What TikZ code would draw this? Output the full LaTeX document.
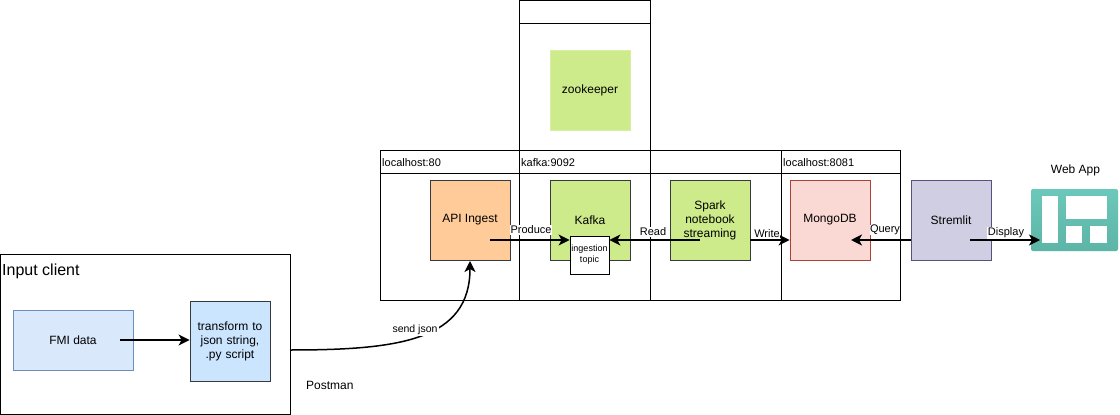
\documentclass[tikz,border=0pt]{standalone}
\usepackage{fontspec}
\setmainfont{Liberation Sans}
\usepackage{tikz}
\usetikzlibrary{arrows.meta}

\definecolor{greenfill}{HTML}{CDEB8B}
\definecolor{darkedge}{HTML}{36393D}
\definecolor{bluefill}{HTML}{DAE8FC}
\definecolor{blueedge}{HTML}{6C8EBF}
\definecolor{skyfill}{HTML}{CCE5FF}
\definecolor{orangefill}{HTML}{FFCC99}
\definecolor{redfill}{HTML}{FAD9D5}
\definecolor{rededge}{HTML}{AE4132}
\definecolor{purplefill}{HTML}{D0CEE2}
\definecolor{purpleedge}{HTML}{56517E}
\definecolor{tealtop}{HTML}{6CC8BA}
\definecolor{tealbottom}{HTML}{5CB5A6}

\begin{document}
\begin{tikzpicture}[x=1pt, y=-1pt, every node/.style={font=\fontsize{12}{14}\selectfont, align=center, inner sep=0pt},
	>={Stealth[length=11pt, width=11pt, inset=3pt]},
	lane/.style={draw=black, line width=0.9pt},
	srvbox/.style={draw=darkedge, line width=0.8pt, minimum width=80pt, minimum height=80pt},
	flow/.style={->, line width=1.5pt},
	plainlabel/.style={anchor=west, font=\fontsize{11}{13}\selectfont},
	flowlabel/.style={fill=white, inner sep=0.5pt, font=\fontsize{11}{13}\selectfont}]
	\useasboundingbox (0,0) rectangle (1120,415);
	\fill[white] (0,0) rectangle (1120,415);
	% swimlanes
	\draw[lane] (519.5,0.5) rectangle (650.5,150);
	\draw[lane] (519.5,23) -- (650.5,23);
	\draw[lane] (380.5,150.5) rectangle (900.5,300);
	\draw[lane] (380.5,173) -- (900.5,173);
	\draw[lane] (519.5,150) -- (519.5,300);
	\draw[lane] (650.5,150) -- (650.5,300);
	\draw[lane] (781.5,150) -- (781.5,300);
	\node[plainlabel] (lblapi) at (382,163) {localhost:80};
	\node[plainlabel] (lblkafka) at (521,163) {kafka:9092};
	\node[plainlabel] (lblmongo) at (783,163) {localhost:8081};
	% input client
	\draw[lane] (0,254.5) rectangle (290,414);
	\node[anchor=west, font=\fontsize{16}{18}\selectfont] (lblclient) at (2,271) {Input client};
	\node[draw=blueedge, fill=bluefill, line width=0.8pt, minimum width=120pt, minimum height=60pt] (fmi) at (73,340) {FMI data};
	\node[srvbox, fill=skyfill, text width=76pt] (transform) at (230,341) {transform to\\json string,\\.py script};
	\node[anchor=west] (lblpostman) at (306,385) {Postman};
	% services
	\node[srvbox, draw=greenfill!80!white, fill=greenfill] (zookeeper) at (590,90) {zookeeper};
	\node[srvbox, fill=orangefill] (api) at (470,220) {API Ingest};
	\node[srvbox, fill=greenfill] (kafka) at (590,220) {Kafka};
	\node[srvbox, fill=greenfill] (spark) at (710,220) {Spark\\notebook\\streaming};
	\node[srvbox, draw=rededge, fill=redfill] (mongo) at (830,220) {MongoDB};
	\node[srvbox, draw=purpleedge, fill=purplefill] (stremlit) at (951,220) {Stremlit};
	\node[draw=black, fill=white, line width=0.8pt, minimum width=39pt, minimum height=38pt, font=\fontsize{9}{11}\selectfont] (topic) at (589.5,255) {ingestion\\topic};
	% web app icon
	\shade[top color=tealtop, bottom color=tealbottom, rounded corners=2pt] (1031,189) rectangle (1118,251);
	\fill[white] (1042,196) rectangle (1058,243);
	\fill[white] (1066,196) rectangle (1107,219);
	\fill[white] (1066,226) rectangle (1082,243);
	\fill[white] (1090,226) rectangle (1107,243);
	\coordinate (webapp) at (1040,240);
	\node (lblwebapp) at (1075.5,170) {Web App};
	% connectors
	\coordinate (apiout) at (490,240);
	\coordinate (sparkout) at (700,240);
	\coordinate (fmiout) at (120,340);
	\coordinate (stremlitout) at (970,240);
	\coordinate (mongoin) at (851,240);
	\coordinate (apiin) at (470,261);
	\coordinate (clientout) at (290,350);
	\draw[flow] (apiout) -- (apiout -| topic.west);
	\draw[flow] (sparkout) -- (sparkout -| topic.east);
	\draw[flow] (apiout -| spark.east) -- (apiout -| mongo.west);
	\draw[flow] (apiout -| stremlit.west) -- (mongoin);
	\draw[flow] (stremlitout) -- (webapp);
	\draw[flow] (fmiout) -- (fmiout -| transform.west);
	\draw[flow] (clientout) .. controls (400,350) and (470,340) .. (apiin);
	\node[flowlabel] (lblproduce) at (531,230) {Produce};
	\node[flowlabel] (lblread) at (653,232) {Read};
	\node[flowlabel] (lblwrite) at (767,234) {Write};
	\node[flowlabel] (lblquery) at (885,230) {Query};
	\node[flowlabel] (lbldisplay) at (1006,233) {Display};
	\node[flowlabel, font=\fontsize{10.5}{12}\selectfont, inner sep=1.5pt] (lblsend) at (415,330) {send json};
\end{tikzpicture}
\end{document}
